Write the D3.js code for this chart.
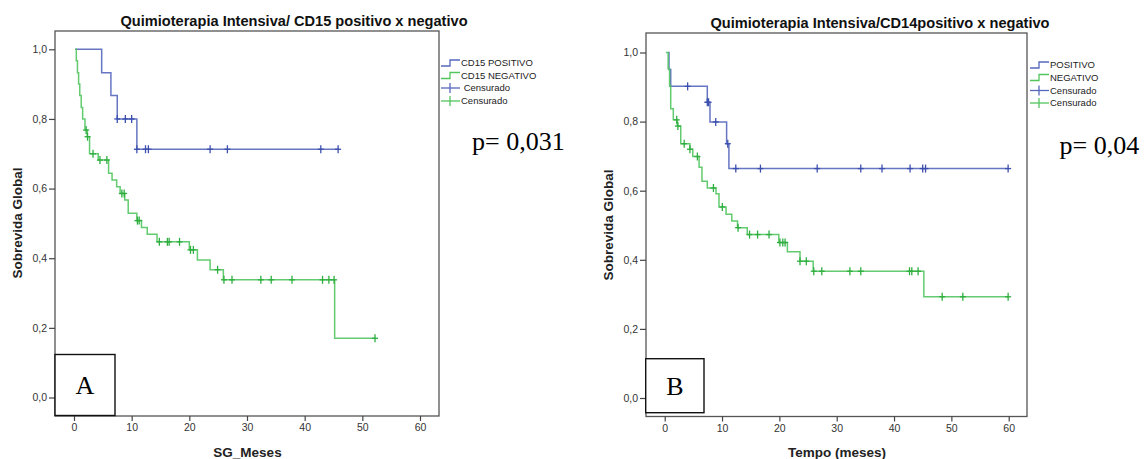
<!DOCTYPE html>
<html>
<head>
<meta charset="utf-8">
<script src="https://cdn.jsdelivr.net/npm/d3@7"></script>
<style>
  html, body { margin: 0; padding: 0; background: #fff; }
  svg { display: block; }
</style>
</head>
<body>
<svg id="chart" width="1147" height="459"></svg>
<script>
// ---- Panel A: CD15 positivo x negativo ----
const cd15PosTimes = [0.2, 4.8, 6.4, 7.5, 10.9];
const cd15PosSurv  = [1.0, 0.933, 0.867, 0.800, 0.713];
const cd15PosCens  = [7.5, 8.9, 10.0, 10.9, 12.4, 12.9, 23.6, 26.6, 42.8, 45.8];
const cd15PosEnd   = 45.9;

const cd15NegTimes = [0.2, 0.4, 0.6, 0.8, 1.0, 1.25, 1.5, 1.9, 2.3, 2.7, 4.2, 6.0, 6.6, 7.4, 8.0, 8.8, 9.4, 10.9, 11.7, 12.7, 14.4, 20.0, 21.4, 23.6, 25.9, 45.2];
const cd15NegSurv  = [1.0, 0.967, 0.933, 0.900, 0.867, 0.833, 0.800, 0.768, 0.749, 0.700, 0.682, 0.644, 0.625, 0.605, 0.586, 0.567, 0.529, 0.508, 0.488, 0.469, 0.447, 0.424, 0.395, 0.367, 0.338, 0.170];
const cd15NegCens  = [2.1, 2.35, 3.3, 4.5, 5.7, 8.3, 8.7, 11.0, 11.3, 14.8, 16.2, 16.5, 18.3, 20.2, 20.7, 24.9, 26.0, 27.4, 32.4, 34.2, 37.8, 43.1, 44.2, 45.1, 52.2];
const cd15NegEnd   = 52.2;

// ---- Panel B: CD14 positivo x negativo ----
const cd14PosTimes = [0.6, 0.75, 1.05, 7.43, 7.9, 10.8, 11.2];
const cd14PosSurv  = [1.0, 0.951, 0.902, 0.856, 0.799, 0.736, 0.664];
const cd14PosCens  = [4.0, 7.43, 7.65, 8.9, 11.0, 12.4, 16.7, 26.6, 34.2, 37.9, 42.8, 45.0, 45.5, 59.9];
const cd14PosEnd   = 59.9;

const cd14NegTimes = [0.2, 0.6, 0.85, 1.05, 1.5, 2.2, 2.8, 4.4, 4.9, 6.0, 6.5, 7.43, 8.95, 9.47, 10.7, 11.7, 12.7, 14.4, 19.9, 21.4, 23.6, 25.9, 45.2];
const cd14NegSurv  = [1.0, 0.953, 0.902, 0.837, 0.805, 0.787, 0.736, 0.720, 0.699, 0.668, 0.627, 0.608, 0.591, 0.553, 0.532, 0.512, 0.493, 0.473, 0.450, 0.423, 0.396, 0.367, 0.293];
const cd14NegCens  = [2.1, 2.3, 3.4, 4.4, 5.7, 8.5, 10.05, 12.8, 14.8, 16.2, 18.2, 20.1, 20.6, 21.0, 23.6, 24.7, 26.0, 27.4, 32.3, 34.2, 42.7, 43.1, 44.2, 48.4, 52.0, 59.9];
const cd14NegEnd   = 59.9;

// ---- Axis ticks and texts ----
const xTicks = [0, 10, 20, 30, 40, 50, 60];
const yTicks = [0, 0.2, 0.4, 0.6, 0.8, 1.0];

const titleA = "Quimioterapia Intensiva/ CD15 positivo x negativo";
const titleB = "Quimioterapia Intensiva/CD14positivo x negativo";
const legendA = ["CD15 POSITIVO", "CD15 NEGATIVO", " Censurado", "Censurado"];
const legendB = ["POSITIVO", "NEGATIVO", "Censurado", "Censurado"];

const BLUE = "#5567bd", BLUE_MARK = "#3c4fae";
const GREEN = "#52c55f", GREEN_MARK = "#2eae3e";
const SANS = "'Liberation Sans', Arial, sans-serif";
const SERIF = "'Liberation Serif', 'Times New Roman', serif";

const ptFmt = d3.formatLocale({decimal: ",", thousands: ".", grouping: [3], currency: ["", ""]}).format(".1f");

const svg = d3.select("#chart");

function survAt(times, surv, t) {
  let s = surv[0];
  for (let i = 0; i < times.length; i++) if (times[i] <= t + 1e-9) s = surv[i];
  return s;
}

function stepPoints(times, surv, end) {
  const pts = [[times[0], surv[0]]];
  for (let i = 1; i < times.length; i++) {
    pts.push([times[i], surv[i - 1]]);
    pts.push([times[i], surv[i]]);
  }
  pts.push([end, surv[surv.length - 1]]);
  return pts;
}

function drawPanel(p) {
  const g = svg.append("g");
  const x = d3.scaleLinear().domain([0, 60]).range(p.xRange);
  const y = d3.scaleLinear().domain([0, 1]).range(p.yRange);
  const f = p.frame;

  // frame
  g.append("rect").attr("x", f.x0).attr("y", f.y0)
    .attr("width", f.x1 - f.x0).attr("height", f.y1 - f.y0)
    .attr("fill", "none").attr("stroke", "#555").attr("stroke-width", 1.3);

  // axes
  const ya = g.append("g").attr("transform", `translate(${f.x0},0)`)
    .call(d3.axisLeft(y).tickValues(yTicks).tickSize(6).tickPadding(2).tickFormat(ptFmt));
  const xa = g.append("g").attr("transform", `translate(0,${f.y1})`)
    .call(d3.axisBottom(x).tickValues(xTicks).tickSize(5).tickPadding(3).tickFormat(d3.format("d")));
  [ya, xa].forEach(a => {
    a.select(".domain").remove();
    a.selectAll("line").attr("stroke", "#444").attr("stroke-width", 1.2);
    a.selectAll("text").attr("font-family", SANS).attr("font-size", 10.5).attr("fill", "#333");
  });

  // titles
  g.append("text").attr("x", p.titleX).attr("y", p.titleY).attr("text-anchor", "middle")
    .attr("font-family", SANS).attr("font-weight", "bold").attr("font-size", 14.6)
    .attr("fill", "#111").text(p.title);
  g.append("text").attr("x", p.xTitleX).attr("y", 457).attr("text-anchor", "middle")
    .attr("font-family", SANS).attr("font-weight", "bold").attr("font-size", 13.5)
    .attr("fill", "#222").text(p.xTitle);
  g.append("text").attr("transform", `translate(${p.yTitleX},${p.yTitleY}) rotate(-90)`)
    .attr("text-anchor", "middle").attr("font-family", SANS).attr("font-weight", "bold")
    .attr("font-size", 13.5).attr("fill", "#222").text("Sobrevida Global");

  // survival curves
  const line = d3.line().x(d => x(d[0])).y(d => y(d[1]));
  p.series.forEach(s => {
    g.append("path").datum(stepPoints(s.times, s.surv, s.end))
      .attr("d", line).attr("fill", "none")
      .attr("stroke", s.color).attr("stroke-width", 1.5).attr("stroke-opacity", 0.9);
    const cg = g.append("g");
    s.cens.forEach(t => {
      const cx = x(t), cy = y(survAt(s.times, s.surv, t));
      cg.append("line").attr("x1", cx).attr("x2", cx).attr("y1", cy - 4).attr("y2", cy + 4)
        .attr("stroke", s.mark).attr("stroke-width", 1.3);
      cg.append("line").attr("x1", cx - 3).attr("x2", cx + 3).attr("y1", cy).attr("y2", cy)
        .attr("stroke", s.mark).attr("stroke-width", 1.3);
    });
  });

  // legend
  const lg = g.append("g");
  p.legendY.forEach((ly, i) => {
    const color = i % 2 === 0 ? BLUE : GREEN;
    const lx = p.legendX;
    if (i < 2) {
      lg.append("path")
        .attr("d", `M${lx},${ly + 3}H${lx + 9}V${ly - 3}H${lx + 19}`)
        .attr("fill", "none").attr("stroke", color).attr("stroke-width", 1.3);
    } else {
      lg.append("line").attr("x1", lx).attr("x2", lx + 19).attr("y1", ly).attr("y2", ly)
        .attr("stroke", color).attr("stroke-width", 1.3);
      lg.append("line").attr("x1", lx + 9).attr("x2", lx + 9).attr("y1", ly - 5).attr("y2", ly + 5)
        .attr("stroke", color).attr("stroke-width", 1.3);
    }
    lg.append("text").attr("x", lx + 20).attr("y", ly).attr("dy", "0.35em")
      .attr("font-family", SANS).attr("font-size", 9.5).attr("fill", "#222")
      .style("white-space", "pre").text(p.legend[i]);
  });

  // p-value
  g.append("text").attr("x", p.pX).attr("y", p.pY)
    .attr("font-family", SERIF).attr("font-size", 26).attr("fill", "#000").text(p.pText);

  // panel letter box
  const b = p.box;
  g.append("rect").attr("x", b.x).attr("y", b.y).attr("width", b.w).attr("height", b.h)
    .attr("fill", "#fff").attr("stroke", "#111").attr("stroke-width", 1.4);
  g.append("text").attr("x", b.x + b.w / 2).attr("y", b.y + b.h / 2 + 9)
    .attr("text-anchor", "middle").attr("font-family", SERIF).attr("font-size", 26)
    .attr("fill", "#000").text(b.letter);
}

drawPanel({
  frame: {x0: 55, x1: 439, y0: 31, y1: 416},
  xRange: [74, 420], yRange: [397.5, 49.3],
  title: titleA, titleX: 294, titleY: 26,
  xTitle: "SG_Meses", xTitleX: 247.5,
  yTitleX: 22, yTitleY: 223,
  series: [
    {times: cd15PosTimes, surv: cd15PosSurv, cens: cd15PosCens, end: cd15PosEnd, color: BLUE, mark: BLUE_MARK},
    {times: cd15NegTimes, surv: cd15NegSurv, cens: cd15NegCens, end: cd15NegEnd, color: GREEN, mark: GREEN_MARK}
  ],
  legend: legendA, legendX: 441, legendY: [63, 75.5, 88, 101],
  pText: "p= 0,031", pX: 472, pY: 150,
  box: {x: 55, y: 354.5, w: 60, h: 61, letter: "A"}
});

drawPanel({
  frame: {x0: 646, x1: 1027, y0: 33, y1: 416.5},
  xRange: [664.7, 1008.7], yRange: [398, 52.5],
  title: titleB, titleX: 880, titleY: 28,
  xTitle: "Tempo (meses)", xTitleX: 837,
  yTitleX: 613, yTitleY: 225,
  series: [
    {times: cd14PosTimes, surv: cd14PosSurv, cens: cd14PosCens, end: cd14PosEnd, color: BLUE, mark: BLUE_MARK},
    {times: cd14NegTimes, surv: cd14NegSurv, cens: cd14NegCens, end: cd14NegEnd, color: GREEN, mark: GREEN_MARK}
  ],
  legend: legendB, legendX: 1030, legendY: [65, 77.5, 90.5, 103],
  pText: "p= 0,04", pX: 1059.5, pY: 154,
  box: {x: 645.7, y: 358.7, w: 58.3, h: 54, letter: "B"}
});
</script>
</body>
</html>
